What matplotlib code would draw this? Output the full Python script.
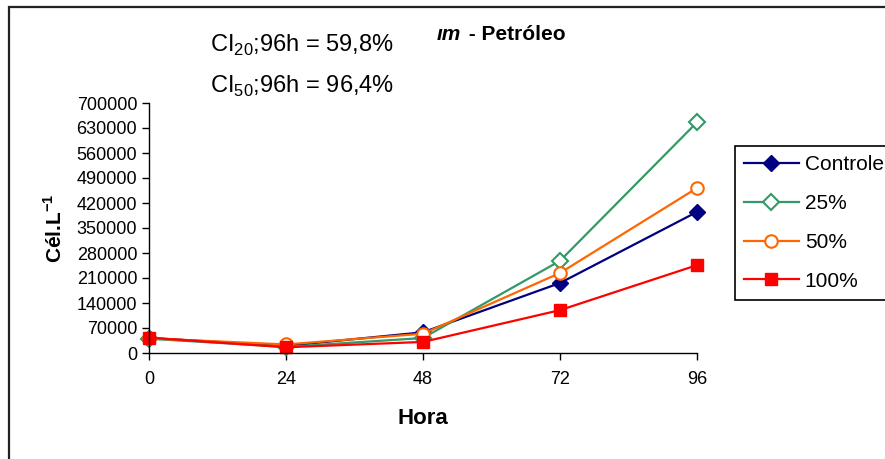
import matplotlib
matplotlib.use('Agg')
import matplotlib.pyplot as plt
from matplotlib.patches import Rectangle

plt.rcParams['font.family'] = ['Liberation Sans', 'DejaVu Sans']
plt.rcParams['mathtext.fontset'] = 'custom'
plt.rcParams['mathtext.rm'] = 'Liberation Sans'
plt.rcParams['mathtext.bf'] = 'Liberation Sans:bold'

horas = [0, 24, 48, 72, 96]
controle = [42000, 20000, 58000, 196000, 395000]
c25 = [40000, 17000, 42000, 258000, 646000]
c50 = [41000, 24000, 54000, 224000, 462000]
c100 = [43000, 16000, 31000, 120000, 246000]
yticks = [0, 70000, 140000, 210000, 280000, 350000, 420000, 490000, 560000, 630000, 700000]

W, H = 885, 459
fig = plt.figure(figsize=(W / 100, H / 100), dpi=100)
ax = fig.add_axes([149 / W, 1 - 353 / H, (697 - 149) / W, (353 - 103) / H])

ax.plot(horas, controle, color='#000080', lw=1.6, marker='D', ms=8, mfc='#000080', mec='#000080', label='Controle')
ax.plot(horas, c25, color='#339966', lw=1.6, marker='D', ms=8, mfc='white', mec='#339966', mew=1.5, label='25%')
ax.plot(horas, c50, color='#FF6600', lw=1.6, marker='o', ms=9, mfc='white', mec='#FF6600', mew=1.5, label='50%')
ax.plot(horas, c100, color='#FF0000', lw=1.6, marker='s', ms=9, mfc='#FF0000', mec='#FF0000', label='100%')

ax.set_xlim(0, 96)
ax.set_ylim(0, 700000)
ax.set_xticks(horas)
ax.set_yticks(yticks)
ax.set_yticklabels([str(v) for v in yticks])
ax.tick_params(axis='both', labelsize=13, direction='out', length=5, width=1, colors='black')
ax.tick_params(axis='x', pad=8)
for s in ['top', 'right']:
    ax.spines[s].set_visible(False)
for s in ['left', 'bottom']:
    ax.spines[s].set_linewidth(1)
for ln in ax.lines:
    ln.set_clip_on(False)

ax.set_xlabel('Hora', fontsize=16, fontweight='bold', labelpad=14)
ax.set_ylabel(r'Cél.L$^{\mathbf{-1}}$', fontsize=15, fontweight='bold', labelpad=8)

fig.text(210 / W, 1 - 45 / H, r'CI$_{20}$;96h = 59,8%', fontsize=17, va='center')
fig.text(210 / W, 1 - 86 / H, r'CI$_{50}$;96h = 96,4%', fontsize=17, va='center')
fig.text(461 / W, 1 - 34 / H, 'ım', fontsize=15, fontweight='bold', style='italic', ha='right', va='center')
fig.text(463 / W, 1 - 34 / H, ' - Petróleo', fontsize=15, fontweight='bold', ha='left', va='center')

leg = fig.legend(loc='upper left', bbox_to_anchor=(735 / W, 1 - 146 / H), borderaxespad=0,
                 fontsize=15, handlelength=2.6, handletextpad=0.3, labelspacing=0.95,
                 borderpad=0.45, fancybox=False, edgecolor='black', framealpha=1)
leg.get_frame().set_linewidth(1.2)

# outer chart frame
fig.add_artist(Rectangle((9 / W, -0.1), 1.2, 1 - 7 / H + 0.1, transform=fig.transFigure,
                         fill=False, edgecolor='#222222', lw=1.6))

fig.savefig('out.png', dpi=100)
